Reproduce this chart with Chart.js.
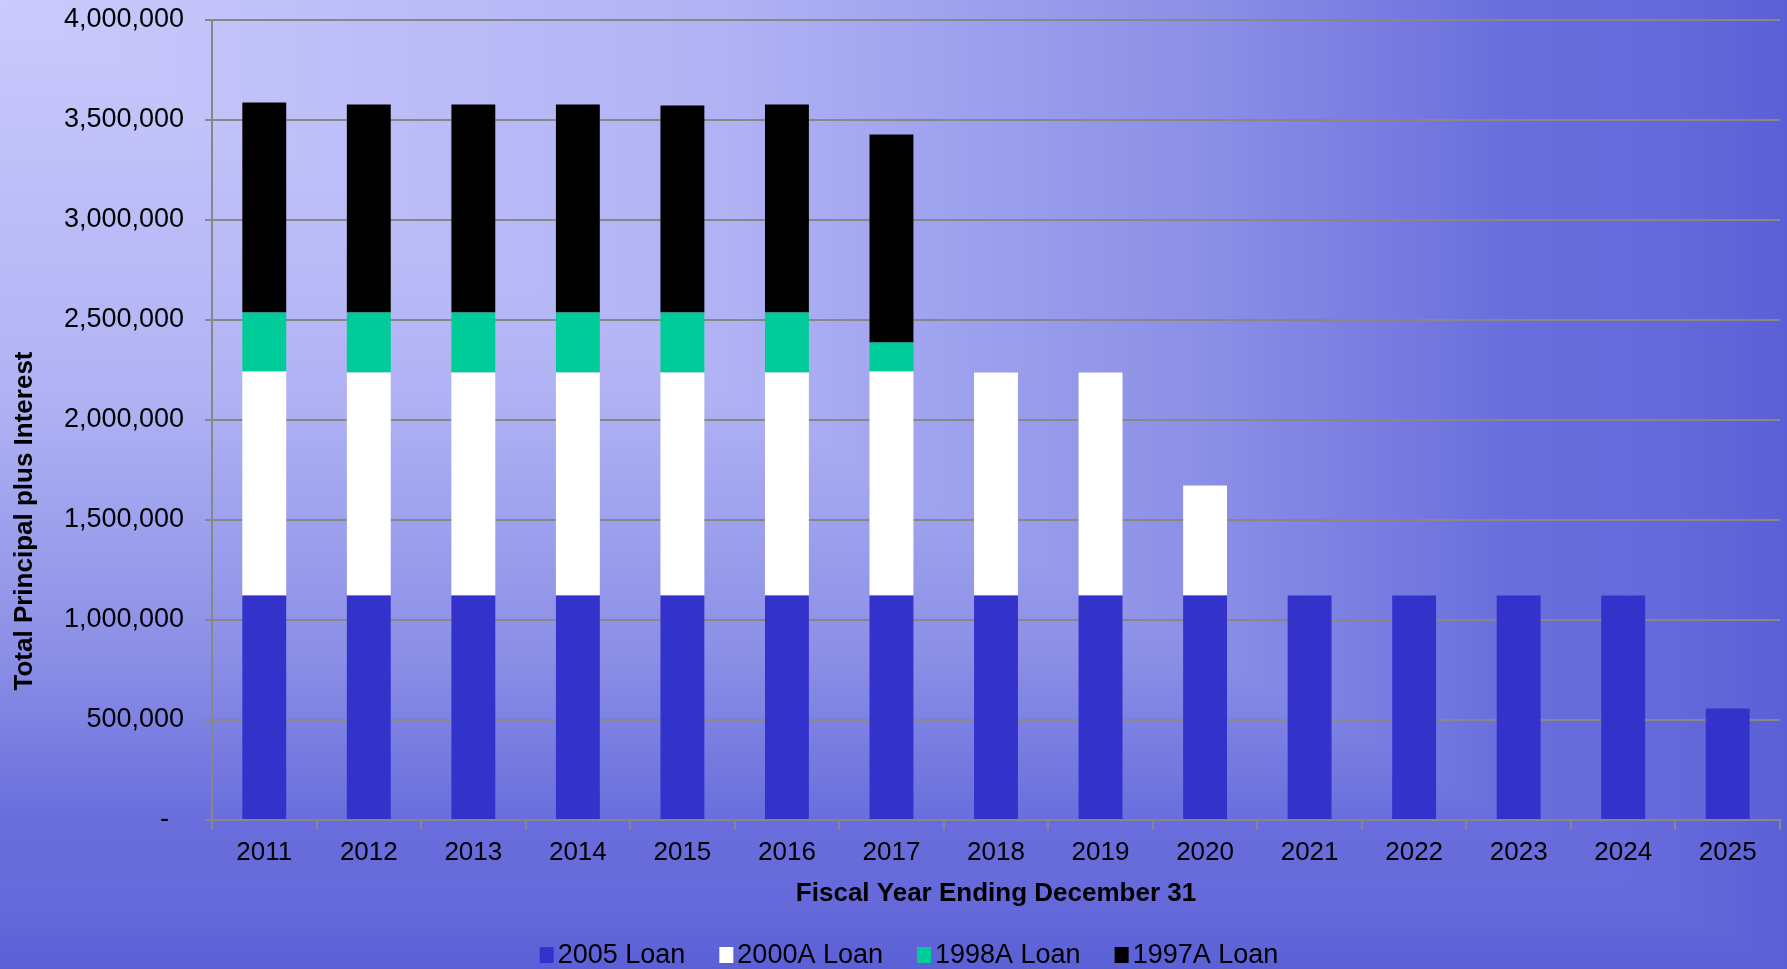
<!DOCTYPE html>
<html>
<head>
<meta charset="utf-8">
<title>Total Principal plus Interest</title>
<script src="https://cdn.jsdelivr.net/npm/chart.js@4/dist/chart.umd.min.js"></script>
<style>
    html, body {
        margin: 0;
        padding: 0;
        overflow: hidden;
        background: #5a60d8;
    }
</style>
</head>
<body>
<canvas id="loanChart" width="1787" height="969"></canvas>
<script>
// fiscal years and yearly debt service per loan
const years = ['2011', '2012', '2013', '2014', '2015', '2016', '2017', '2018', '2019', '2020', '2021', '2022', '2023', '2024', '2025'];
const loan2005 = [1122000, 1122000, 1122000, 1122000, 1122000, 1122000, 1122000, 1122000, 1122000, 1122000, 1122000, 1122000, 1122000, 1122000, 558000];
const loan2000A = [1120000, 1115000, 1115000, 1115000, 1115000, 1115000, 1120000, 1115000, 1115000, 550000, 0, 0, 0, 0, 0];
const loan1998A = [295000, 300000, 300000, 300000, 300000, 300000, 145000, 0, 0, 0, 0, 0, 0, 0, 0];
const loan1997A = [1050000, 1040000, 1040000, 1040000, 1035000, 1040000, 1040000, 0, 0, 0, 0, 0, 0, 0, 0];
const seriesNames = ['2005 Loan', '2000A Loan', '1998A Loan', '1997A Loan'];
const seriesColors = ['#3333cc', '#ffffff', '#00cc99', '#000000'];
const yTicks = [0, 500000, 1000000, 1500000, 2000000, 2500000, 3000000, 3500000, 4000000];

const fontFamily = '"Liberation Sans", Arial, sans-serif';
Chart.defaults.font.family = fontFamily;
Chart.defaults.color = '#000';

const gridGrey = '#878787';

// "from corner" fill: light in the top-left, darkening towards the right and bottom edges
const backdrop = {
    id: 'backdrop',
    beforeDraw(chart) {
        const { ctx, width, height } = chart;
        const stops = [
            [0, '#cacafc'], [0.41, '#b0b2f4'], [0.52, '#a0a3ee'], [0.67, '#8c90e6'],
            [0.845, '#6a6edc'], [0.94, '#6468d9'], [1, '#5a60d6']
        ];
        const ramp = g => { stops.forEach(s => g.addColorStop(s[0], s[1])); return g; };
        ctx.save();
        ctx.fillStyle = ramp(ctx.createLinearGradient(0, 0, 0, height));
        ctx.fillRect(0, 0, width, height);
        ctx.beginPath();
        ctx.moveTo(0, 0);
        ctx.lineTo(width, 0);
        ctx.lineTo(width, height);
        ctx.closePath();
        ctx.clip();
        ctx.fillStyle = ramp(ctx.createLinearGradient(0, 0, width, 0));
        ctx.fillRect(0, 0, width, height);
        ctx.restore();
    }
};

// vertical axis title, sits lower than the plot centre
const yTitle = {
    id: 'yTitle',
    afterDraw(chart) {
        const ctx = chart.ctx;
        ctx.save();
        ctx.translate(25, 521);
        ctx.rotate(-Math.PI / 2);
        ctx.font = 'bold 26px ' + fontFamily;
        ctx.fillStyle = '#000';
        ctx.textAlign = 'center';
        ctx.textBaseline = 'middle';
        ctx.fillText('Total Principal plus Interest', 0, 0);
        ctx.restore();
    }
};

// compact legend along the bottom edge: small square, tight gap, wide spacing between entries
const bottomLegend = {
    id: 'bottomLegend',
    afterDraw(chart) {
        const ctx = chart.ctx;
        const box = 14, gap = 4, spacing = 34, centreX = 909, centreY = 955;
        ctx.save();
        ctx.font = '27px ' + fontFamily;
        ctx.textBaseline = 'middle';
        ctx.textAlign = 'left';
        const items = chart.data.datasets.map(ds => ({
            text: ds.label,
            color: ds.backgroundColor,
            width: box + gap + ctx.measureText(ds.label).width
        }));
        const total = items.reduce((s, it) => s + it.width, 0) + spacing * (items.length - 1);
        let x = centreX - total / 2;
        items.forEach(it => {
            ctx.fillStyle = it.color;
            ctx.fillRect(x, centreY - box / 2 - 1, box, box + 2);
            ctx.fillStyle = '#000';
            ctx.fillText(it.text, x + box + gap, centreY + 1);
            x += it.width + spacing;
        });
        ctx.restore();
    }
};

const seriesData = [loan2005, loan2000A, loan1998A, loan1997A];

const ctx = document.getElementById('loanChart').getContext('2d');
const loanChart = new Chart(ctx, {
    type: 'bar',
    data: {
        labels: years,
        datasets: seriesNames.map((name, i) => ({
            label: name,
            data: seriesData[i],
            backgroundColor: seriesColors[i],
            borderWidth: 0,
            barPercentage: 0.42,
            categoryPercentage: 1
        }))
    },
    options: {
        responsive: false,
        animation: false,
        devicePixelRatio: 1,
        layout: {
            padding: { left: 0, right: 7, top: 20, bottom: 60 }
        },
        plugins: {
            legend: { display: false },
            tooltip: { enabled: false }
        },
        scales: {
            x: {
                stacked: true,
                grid: {
                    display: true,
                    drawOnChartArea: false,
                    drawTicks: true,
                    tickLength: 10,
                    color: gridGrey,
                    lineWidth: 2,
                    offset: true
                },
                border: { color: gridGrey, width: 2 },
                ticks: {
                    font: { size: 26 },
                    color: '#000',
                    padding: 7,
                    maxRotation: 0
                },
                title: {
                    display: true,
                    text: 'Fiscal Year Ending December 31',
                    font: { size: 26, weight: 'bold' },
                    color: '#000',
                    padding: { top: 0, bottom: 0 }
                },
                afterFit(scale) {
                    scale.height = 89;
                    scale.paddingLeft = 0;
                    scale.paddingRight = 0;
                }
            },
            y: {
                stacked: true,
                min: 0,
                max: 4000000,
                afterBuildTicks(scale) {
                    scale.ticks = yTicks.map(v => ({ value: v }));
                },
                ticks: {
                    font: { size: 27 },
                    color: '#000',
                    padding: 21,
                    callback: function (value) {
                        return value === 0 ? '-  ' : value.toLocaleString('en-US');
                    }
                },
                grid: {
                    color: gridGrey,
                    lineWidth: 2,
                    tickLength: 7
                },
                border: { color: gridGrey, width: 2 },
                afterFit(scale) {
                    scale.width = 212;
                    scale.paddingTop = 0;
                    scale.paddingBottom = 0;
                }
            }
        }
    },
    plugins: [backdrop, yTitle, bottomLegend]
});
</script>
</body>
</html>
